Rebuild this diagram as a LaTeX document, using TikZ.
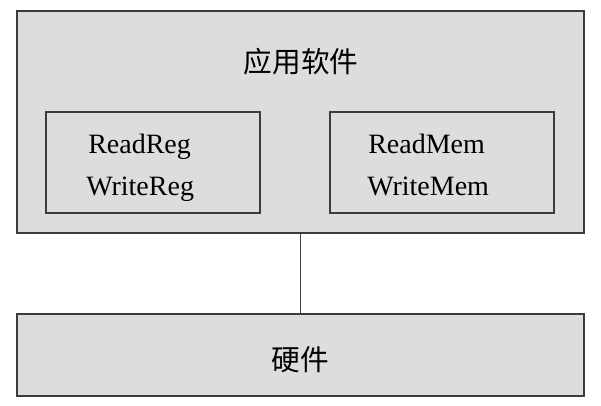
\documentclass[tikz,border=0pt]{standalone}
\usepackage{fontspec}
\setmainfont{Liberation Serif}
\newfontfamily\cjk{Noto Sans CJK SC}
\usetikzlibrary{positioning}
\definecolor{boxgray}{RGB}{220,221,223}
\definecolor{edgegray}{RGB}{60,60,60}

\begin{document}
\begin{tikzpicture}[x=0.75pt, y=-0.75pt,
    box/.style={draw=edgegray, fill=boxgray, line width=0.9pt, inner sep=0pt, outer sep=0pt},
    txt/.style={font=\fontsize{21}{25}\selectfont, inner sep=0pt, anchor=base west},
    zh/.style={font=\cjk\fontsize{21.5}{25}\selectfont, inner sep=0pt}]
    \useasboundingbox[fill=white] (0,0) rectangle (601,405);

    % Boxes
    \node[box, minimum width=425.25pt, minimum height=166.5pt] (app) at (300.5,122) {};
    \node[box, minimum width=160.5pt, minimum height=75.75pt] (regbox) at (153,162.5) {};
    \node[box, minimum width=168pt, minimum height=75.75pt] (membox) at (442,162.5) {};
    \node[box, minimum width=425.25pt, minimum height=61.5pt] (hw) at (300.5,355) {};

    % Labels
    \node[zh] (applabel) at (301,62) {应用软件};
    \node[txt] (readreg) at (88,153) {ReadReg};
    \node[txt] (writereg) at (86,195) {WriteReg};
    \node[txt] (readmem) at (368,153) {ReadMem};
    \node[txt] (writemem) at (367,195) {WriteMem};
    \node[zh] (hwlabel) at (300,360) {硬件};

    % Link
    \draw[edgegray, line width=0.9pt] (app.south) -- (hw.north);
\end{tikzpicture}
\end{document}
